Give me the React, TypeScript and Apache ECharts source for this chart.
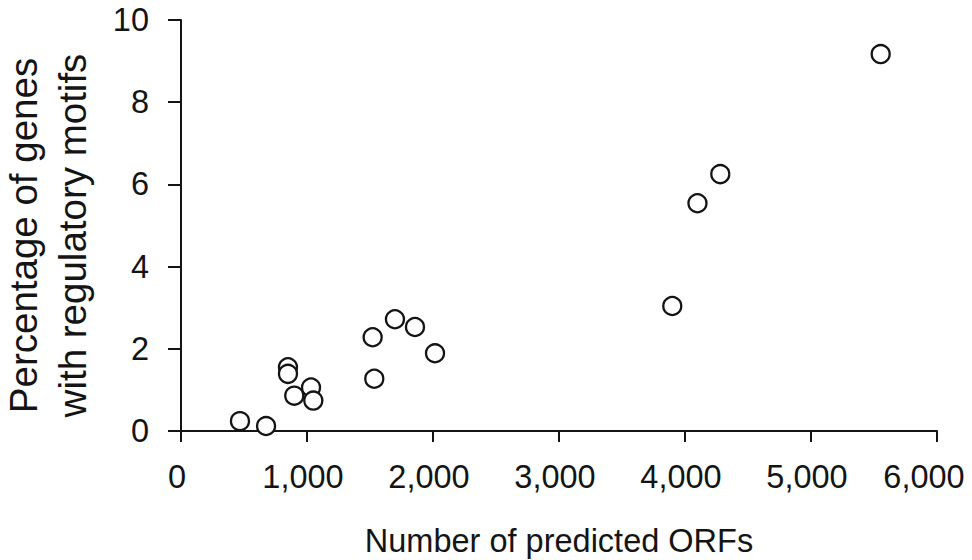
import React, { useEffect, useRef } from "react";
import * as echarts from "echarts";

const orfCounts = [468, 675, 849, 849, 899, 1032, 1050, 1521, 1534, 1698, 1857, 2016, 3899, 4099, 4280, 5553];
const motifPercents = [0.24, 0.12, 1.55, 1.39, 0.86, 1.06, 0.74, 2.28, 1.27, 2.72, 2.53, 1.89, 3.04, 5.54, 6.25, 9.17];
const xAxisTitle = "Number of predicted ORFs";
const yAxisTitle = "Percentage of genes\nwith regulatory motifs";

const FONT = "'Liberation Sans', Arial, Helvetica, sans-serif";
const INK = "#141414";
const X_MAX = 6000;

export default function App() {
  const ref = useRef<HTMLDivElement>(null);
  useEffect(() => {
    if (!ref.current) return;
    const chart = echarts.init(ref.current, undefined, { renderer: "svg" });
    const data = orfCounts.map((x, i) => [x, motifPercents[i]]);
    chart.setOption({
      animation: false,
      backgroundColor: "#ffffff",
      grid: {
        left: 181,
        right: 35,
        top: 20,
        bottom: 129,
        containLabel: false,
        outerBoundsMode: "none",
      },
      xAxis: {
        type: "value",
        min: 0,
        max: X_MAX,
        interval: 1000,
        name: xAxisTitle,
        nameLocation: "middle",
        nameGap: 93,
        nameTextStyle: { fontFamily: FONT, fontSize: 32.5, color: INK },
        axisLine: { show: true, lineStyle: { color: INK, width: 2 } },
        axisTick: { show: true, length: 11, lineStyle: { color: INK, width: 2 } },
        axisLabel: {
          margin: 29,
          fontFamily: FONT,
          fontSize: 32.5,
          color: INK,
          padding: [0, 8, 0, 0],
          formatter: (v: number) =>
            v === X_MAX ? `{last|${v.toLocaleString("en-US")}}` : v.toLocaleString("en-US"),
          rich: {
            last: {
              fontFamily: FONT,
              fontSize: 32.5,
              color: INK,
              padding: [0, 18, 0, 0],
            },
          },
        },
        splitLine: { show: false },
      },
      yAxis: {
        type: "value",
        min: 0,
        max: 10,
        interval: 2,
        name: yAxisTitle,
        nameLocation: "middle",
        nameRotate: 90,
        nameGap: 84,
        nameTextStyle: {
          fontFamily: FONT,
          fontSize: 38.5,
          lineHeight: 49,
          color: INK,
          align: "center",
          padding: [0, 20, 0, 0],
        },
        axisLine: { show: true, lineStyle: { color: INK, width: 2 } },
        axisTick: { show: true, length: 13, lineStyle: { color: INK, width: 2 } },
        axisLabel: { margin: 32, fontFamily: FONT, fontSize: 32.5, color: INK },
        splitLine: { show: false },
      },
      series: [
        {
          type: "scatter",
          data,
          symbol: "circle",
          symbolSize: 18,
          itemStyle: { color: "#ffffff", borderColor: INK, borderWidth: 2.3, opacity: 1 },
        },
      ],
    });
    return () => chart.dispose();
  }, []);
  return <div ref={ref} style={{ width: 972, height: 560, position: "absolute", left: 0, top: 0 }} />;
}
